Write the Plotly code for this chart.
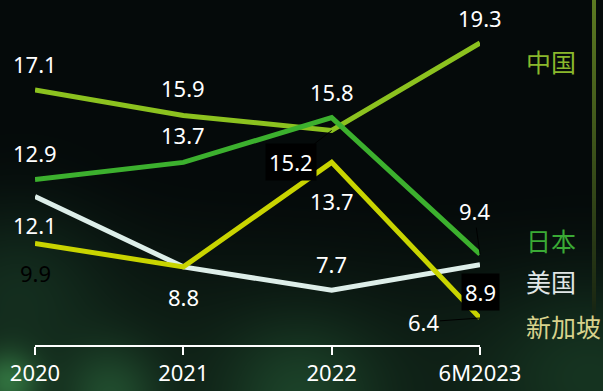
import base64, struct, zlib
import numpy as np
import plotly.graph_objects as go

# ---------------- data ----------------
periods = ["2020", "2021", "2022", "6M2023"]
china = [17.1, 15.9, 15.2, 19.3]
japan = [12.9, 13.7, 15.8, 9.4]
usa = [12.1, 8.8, 7.7, 8.9]
singapore = [9.9, 8.8, 13.7, 6.4]
series_names = ["中国", "日本", "美国", "新加坡"]

W, H = 603, 391
ML, MR, MT, MB = 35, 123, 0, 46

# ---------------- background image ----------------
def make_bg():
    yy, xx = np.mgrid[0:H, 0:W].astype(float)
    top = np.array([5, 10, 10], float)
    bot = np.array([14, 30, 21], float)
    t = np.clip((yy - 190 + 40 * (1 - xx / W)) / 200.0, 0, 1)
    t = t * t * (3 - 2 * t)
    img = top[None, None, :] * (1 - t[..., None]) + bot[None, None, :] * t[..., None]
    def glow(cx, cy, s, col):
        g = np.exp(-(((xx - cx) ** 2 + (yy - cy) ** 2) / (2 * s * s)))
        return g[..., None] * np.array(col, float)[None, None, :]
    img += glow(8, 382, 22, (32, 76, 38))
    img += glow(110, 395, 35, (18, 44, 24))
    img += glow(300, 400, 55, (14, 36, 20))
    img += glow(20, 280, 60, (8, 20, 12))
    img += glow(590, 370, 70, (8, 22, 12))
    # right vertical bar
    bar = (xx >= 592) & (xx <= 595)
    tb = np.clip(yy / 320.0, 0, 1)
    barcol = np.array([92, 122, 34], float)[None, None, :] * (1 - tb[..., None]) + \
        np.array([24, 36, 18], float)[None, None, :] * tb[..., None]
    fade = np.clip((330 - yy) / 30.0, 0, 1)[..., None]
    img = np.where(bar[..., None], barcol * fade + img * (1 - fade), img)
    img = np.clip(img, 0, 255).astype(np.uint8)
    raw = b"".join(b"\x00" + img[r].tobytes() for r in range(H))
    def chunk(tag, data):
        c = struct.pack(">I", len(data)) + tag + data
        return c + struct.pack(">I", zlib.crc32(tag + data) & 0xffffffff)
    png = b"\x89PNG\r\n\x1a\n" + chunk(b"IHDR", struct.pack(">IIBBBBB", W, H, 8, 2, 0, 0, 0)) + \
        chunk(b"IDAT", zlib.compress(raw, 9)) + chunk(b"IEND", b"")
    return "data:image/png;base64," + base64.b64encode(png).decode()

pw, ph = W - ML - MR, H - MT - MB

def px_x(x):
    return (x - ML) / pw

def px_y(y):
    return (H - MB - y) / ph

xs = list(range(len(periods)))
line_colors = ["#8cc21f", "#3cb02e", "#ddeee9", "#c9d400"]
label_colors = ["#8ab82c", "#3aaa35", "#e0e6e6", "#d8d28c"]
all_series = [china, japan, usa, singapore]

fig = go.Figure()
for name, vals, col in zip(series_names, all_series, line_colors):
    fig.add_trace(go.Scatter(x=xs, y=vals, mode="lines", name=name,
                             line=dict(color=col, width=5), hoverinfo="skip"))

NUM = "Noto Sans"
annots = []

def lab(i, series, dy, color="white", bg=None, ax=None, ay=None):
    a = dict(x=xs[i], y=series[i], xref="x", yref="y", text=f"{series[i]:.1f}",
             font=dict(family=NUM, size=22, color=color))
    if bg:
        a.update(bgcolor=bg, borderpad=3)
    if ax is not None:
        a.update(showarrow=True, ax=ax, ay=ay, arrowhead=0, arrowwidth=1,
                 arrowcolor="#000000", standoff=0)
    else:
        a.update(showarrow=False, yshift=dy)
    annots.append(a)

# 中国
lab(0, china, 26)
lab(1, china, 27)
lab(2, china, 0, bg="#000000", ax=-41, ay=32)
lab(3, china, 25)
# 日本
lab(0, japan, 26)
lab(1, japan, 27)
lab(2, japan, 26)
lab(3, japan, 0, ax=-6, ay=-43)
# 美国
lab(0, usa, -28)
lab(1, usa, -30)
lab(2, usa, 26)
lab(3, usa, -27, bg="#000000")
# 新加坡
lab(0, singapore, -30, color="#000000")
lab(2, singapore, -39)
lab(3, singapore, 0, ax=-57, ay=4)

legend_y = [61, 240, 281, 326]
for name, col, ly in zip(series_names, label_colors, legend_y):
    annots.append(dict(x=px_x(524), y=px_y(ly), xref="paper", yref="paper",
                       xanchor="left", yanchor="middle", showarrow=False, text=name,
                       font=dict(family="Noto Sans CJK SC", size=25, color=col)))

y_per_px = 21.32
y_top = china[3] + 43 / y_per_px
y_bot = china[3] - (ph - 43) / y_per_px

fig.update_layout(
    width=W, height=H,
    margin=dict(l=ML, r=MR, t=MT, b=MB, pad=0),
    paper_bgcolor="#050a0a", plot_bgcolor="rgba(0,0,0,0)",
    showlegend=False,
    annotations=annots,
    images=[dict(source=make_bg(), xref="paper", yref="paper",
                 x=px_x(0), y=px_y(0), sizex=W / pw, sizey=H / ph,
                 xanchor="left", yanchor="top", sizing="stretch", layer="below")],
    xaxis=dict(range=[0, 3], tickvals=xs, ticktext=periods, showgrid=False,
               zeroline=False, showline=True, linecolor="white", linewidth=2,
               ticks="outside", ticklen=8, tickwidth=2, tickcolor="white",
               tickfont=dict(family=NUM, size=22, color="white"), fixedrange=True),
    yaxis=dict(range=[y_bot, y_top], visible=False, showgrid=False, zeroline=False,
               fixedrange=True),
)

fig.write_html("out.html", config={"displayModeBar": False},
               post_script="document.body.style.margin='0';document.body.style.padding='0';"
                           "document.body.style.overflow='hidden';")
